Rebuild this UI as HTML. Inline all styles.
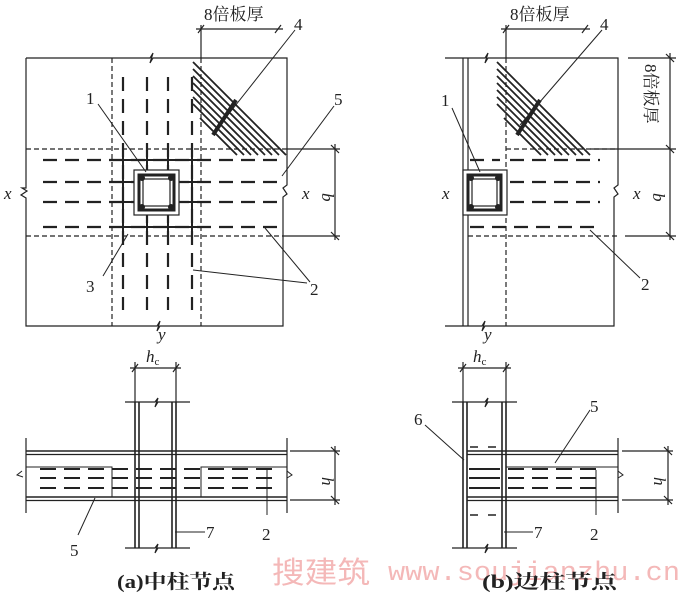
<!DOCTYPE html>
<html><head><meta charset="utf-8"><style>
html,body{margin:0;padding:0;background:#fff;}
svg{display:block;}
text{font-family:"Liberation Serif","Noto Serif CJK SC",serif;fill:#222;}
</style></head><body>
<svg width="683" height="600" viewBox="0 0 683 600" xmlns="http://www.w3.org/2000/svg">
<g stroke="#222" fill="none" stroke-width="1.2">
<path d="M26 58 H150 l3 -5 l-3 10 l3 -5 H287 V185 l-4 3 l4 6 l-4 3 V326 H160 l-3 5 l3 -10 l-3 5 H26 V198 l-5 -3 l6 -4 l-5 -3 l4 0 V58"/>
<g stroke-dasharray="5 3">
<line x1="112" y1="58" x2="112" y2="326"/><line x1="201" y1="58" x2="201" y2="326"/>
<line x1="26" y1="149" x2="287" y2="149"/><line x1="26" y1="236" x2="287" y2="236"/>
</g>
<g stroke-width="2.2" stroke-dasharray="14 8">
<line x1="43" y1="160" x2="280" y2="160"/><line x1="43" y1="182" x2="280" y2="182"/>
<line x1="43" y1="202" x2="280" y2="202"/><line x1="43" y1="227" x2="280" y2="227"/>
<line x1="123" y1="77" x2="123" y2="310"/><line x1="147" y1="77" x2="147" y2="310"/>
<line x1="168" y1="77" x2="168" y2="310"/><line x1="192" y1="77" x2="192" y2="310"/>
</g>
<g stroke-width="2">
<line x1="117" y1="160" x2="200" y2="160"/><line x1="117" y1="227" x2="200" y2="227"/>
<line x1="117" y1="182" x2="134" y2="182"/><line x1="179" y1="182" x2="200" y2="182"/>
<line x1="117" y1="202" x2="134" y2="202"/><line x1="179" y1="202" x2="200" y2="202"/>
<line x1="123" y1="152" x2="123" y2="235"/><line x1="192" y1="152" x2="192" y2="235"/>
<line x1="147" y1="152" x2="147" y2="170"/><line x1="168" y1="152" x2="168" y2="170"/>
<line x1="147" y1="215" x2="147" y2="235"/><line x1="168" y1="215" x2="168" y2="235"/>
</g>
<rect x="134" y="170" width="45" height="45" fill="#fff"/>
<rect x="139" y="175" width="35" height="35" stroke-width="3"/>
<rect x="143" y="179" width="27" height="27"/>
<g fill="#222" stroke="none"><circle cx="142" cy="178" r="3"/><circle cx="171" cy="178" r="3"/><circle cx="142" cy="207" r="3"/><circle cx="171" cy="207" r="3"/></g>
<g stroke-width="1.8">
<line x1="193" y1="62" x2="286" y2="155"/><line x1="193" y1="69" x2="279" y2="155"/>
<line x1="193" y1="76" x2="272" y2="155"/><line x1="193" y1="83" x2="265" y2="155"/>
<line x1="193" y1="90" x2="258" y2="155"/><line x1="193" y1="97" x2="251" y2="155"/>
<line x1="193" y1="104" x2="244" y2="155"/><line x1="200" y1="118" x2="237" y2="155"/>
</g>
<line x1="213" y1="135" x2="236" y2="100" stroke-width="4"/>
<line x1="201" y1="58" x2="201" y2="25"/><line x1="196" y1="29" x2="283" y2="29"/>
<line x1="198" y1="33" x2="204" y2="25"/><line x1="275" y1="33" x2="281" y2="25"/>
<line x1="220" y1="125" x2="295" y2="30" stroke-width="1"/>
<line x1="287" y1="149" x2="340" y2="149"/><line x1="287" y1="236" x2="340" y2="236"/>
<line x1="335" y1="144" x2="335" y2="240"/>
<line x1="331" y1="145" x2="339" y2="153"/><line x1="331" y1="232" x2="339" y2="240"/>
<g stroke-width="1">
<line x1="98" y1="104" x2="146" y2="172"/><line x1="334" y1="106" x2="282" y2="176"/>
<line x1="103" y1="276" x2="128" y2="234"/>
<line x1="193" y1="270" x2="307" y2="283"/><line x1="265" y1="228" x2="310" y2="282"/>
</g>

<line x1="135" y1="402" x2="135" y2="548" stroke-width="1.6"/><line x1="139" y1="402" x2="139" y2="548" stroke-width="1.6"/>
<line x1="172" y1="402" x2="172" y2="548" stroke-width="1.6"/><line x1="176" y1="402" x2="176" y2="548" stroke-width="1.6"/>
<path d="M125 402 H155 l3 -4 l-3 9 l3 -5 H190"/>
<path d="M125 548 H155 l3 -4 l-3 9 l3 -5 H190"/>
<line x1="26" y1="451" x2="287" y2="451" stroke-width="1.6"/><line x1="26" y1="454.5" x2="287" y2="454.5"/>
<line x1="26" y1="497" x2="287" y2="497" stroke-width="1.6"/><line x1="26" y1="500.5" x2="287" y2="500.5"/>
<line x1="26" y1="438" x2="26" y2="513"/><line x1="287" y1="438" x2="287" y2="513"/>
<path d="M26 467 H112 V497 M22 471 l-5 4 l6 2 M201 497 V467 H287 M287 471 l5 4 l-5 3" stroke-width="1"/>
<g stroke-width="2" stroke-dasharray="16 8">
<line x1="40" y1="469" x2="272" y2="469"/><line x1="40" y1="478" x2="272" y2="478"/><line x1="40" y1="488" x2="272" y2="488"/>
</g>
<line x1="267" y1="470" x2="267" y2="515" stroke-width="1"/>
<line x1="95" y1="498" x2="78" y2="535" stroke-width="1"/>
<line x1="175" y1="532" x2="205" y2="532" stroke-width="1"/>
<line x1="135" y1="402" x2="135" y2="362"/><line x1="176" y1="402" x2="176" y2="362"/>
<line x1="130" y1="368" x2="181" y2="368"/>
<line x1="132" y1="372" x2="138" y2="364"/><line x1="173" y1="372" x2="179" y2="364"/>
<line x1="290" y1="451" x2="340" y2="451"/><line x1="290" y1="500" x2="340" y2="500"/>
<line x1="335" y1="446" x2="335" y2="505"/>
<line x1="331" y1="447" x2="339" y2="455"/><line x1="331" y1="496" x2="339" y2="504"/>

<line x1="463" y1="58" x2="463" y2="326"/><line x1="468" y1="58" x2="468" y2="326"/>
<path d="M445 58 H485 l3 -5 l-3 10 l3 -5 H618 V185 l-4 3 l4 6 l-4 3 V326 H485 l-3 5 l3 -10 l-3 5 H445"/>
<g stroke-dasharray="5 3">
<line x1="506" y1="58" x2="506" y2="326"/>
<line x1="506" y1="149" x2="618" y2="149"/><line x1="468" y1="236" x2="618" y2="236"/>
</g>
<g stroke-width="2.2" stroke-dasharray="14 8">
<line x1="510" y1="160" x2="600" y2="160"/><line x1="510" y1="182" x2="600" y2="182"/>
<line x1="510" y1="202" x2="600" y2="202"/><line x1="470" y1="227" x2="600" y2="227"/>
<line x1="470" y1="160" x2="500" y2="160"/>
</g>
<rect x="463" y="170" width="44" height="45" fill="#fff"/>
<rect x="468" y="175" width="33" height="35" stroke-width="3"/>
<rect x="472" y="179" width="25" height="27"/>
<g fill="#222" stroke="none"><circle cx="471" cy="178" r="3"/><circle cx="498" cy="178" r="3"/><circle cx="471" cy="207" r="3"/><circle cx="498" cy="207" r="3"/></g>
<g stroke-width="1.8">
<line x1="497" y1="62" x2="590" y2="155"/><line x1="497" y1="69" x2="583" y2="155"/>
<line x1="497" y1="76" x2="576" y2="155"/><line x1="497" y1="83" x2="569" y2="155"/>
<line x1="497" y1="90" x2="562" y2="155"/><line x1="497" y1="97" x2="555" y2="155"/>
<line x1="497" y1="104" x2="548" y2="155"/><line x1="504" y1="118" x2="541" y2="155"/>
</g>
<line x1="517" y1="135" x2="540" y2="100" stroke-width="4"/>
<line x1="506" y1="58" x2="506" y2="25"/><line x1="501" y1="29" x2="590" y2="29"/>
<line x1="503" y1="33" x2="509" y2="25"/><line x1="582" y1="33" x2="588" y2="25"/>
<line x1="520" y1="125" x2="602" y2="30" stroke-width="1"/>
<line x1="628" y1="58" x2="676" y2="58"/><line x1="590" y1="149" x2="676" y2="149"/><line x1="625" y1="236" x2="676" y2="236"/>
<line x1="670" y1="53" x2="670" y2="240"/>
<line x1="666" y1="54" x2="674" y2="62"/><line x1="666" y1="145" x2="674" y2="153"/><line x1="666" y1="232" x2="674" y2="240"/>
<g stroke-width="1">
<line x1="452" y1="108" x2="480" y2="172"/>
<line x1="590" y1="230" x2="640" y2="278"/>
</g>

<line x1="463" y1="402" x2="463" y2="548" stroke-width="1.6"/><line x1="467" y1="402" x2="467" y2="548" stroke-width="1.6"/>
<line x1="502" y1="402" x2="502" y2="548" stroke-width="1.6"/><line x1="506" y1="402" x2="506" y2="548" stroke-width="1.6"/>
<path d="M452 402 H485 l3 -4 l-3 9 l3 -5 H517"/>
<path d="M452 548 H485 l3 -4 l-3 9 l3 -5 H517"/>
<line x1="467" y1="451" x2="618" y2="451" stroke-width="1.6"/><line x1="467" y1="454.5" x2="618" y2="454.5"/>
<line x1="467" y1="497" x2="618" y2="497" stroke-width="1.6"/><line x1="467" y1="500.5" x2="618" y2="500.5"/>
<line x1="618" y1="438" x2="618" y2="513"/>
<path d="M506 467 H618 M618 471 l5 4 l-5 3" stroke-width="1"/>
<g stroke-width="2" stroke-dasharray="16 8">
<line x1="508" y1="469" x2="600" y2="469"/><line x1="508" y1="478" x2="600" y2="478"/><line x1="508" y1="488" x2="600" y2="488"/>
</g>
<g stroke-width="2"><line x1="469" y1="469" x2="500" y2="469"/><line x1="469" y1="478" x2="500" y2="478"/><line x1="469" y1="488" x2="500" y2="488"/></g>
<g stroke-width="1.4" stroke-dasharray="8 10"><line x1="470" y1="447" x2="500" y2="447"/><line x1="470" y1="515" x2="500" y2="515"/></g>
<line x1="596" y1="470" x2="596" y2="515" stroke-width="1"/>
<line x1="425" y1="425" x2="464" y2="460" stroke-width="1"/>
<line x1="555" y1="463" x2="590" y2="410" stroke-width="1"/>
<line x1="504" y1="532" x2="533" y2="532" stroke-width="1"/>
<line x1="463" y1="402" x2="463" y2="362"/><line x1="506" y1="402" x2="506" y2="362"/>
<line x1="458" y1="368" x2="511" y2="368"/>
<line x1="460" y1="372" x2="466" y2="364"/><line x1="503" y1="372" x2="509" y2="364"/>
<line x1="622" y1="451" x2="673" y2="451"/><line x1="622" y1="500" x2="673" y2="500"/>
<line x1="668" y1="446" x2="668" y2="505"/>
<line x1="664" y1="447" x2="672" y2="455"/><line x1="664" y1="496" x2="672" y2="504"/>
</g>

<g font-size="17">
<text x="204" y="20">8倍板厚</text>
<text x="294" y="30">4</text>
<text x="86" y="104">1</text>
<text x="334" y="105">5</text>
<text x="4" y="199" font-style="italic">x</text>
<text x="302" y="199" font-style="italic">x</text>
<text x="86" y="292">3</text>
<text x="310" y="295">2</text>
<text x="158" y="340" font-style="italic">y</text>
<text x="146" y="362" font-style="italic">h<tspan font-size="11" dy="3" font-style="normal">c</tspan></text>
<text x="70" y="556">5</text>
<text x="206" y="538">7</text>
<text x="262" y="540">2</text>
<text x="510" y="20">8倍板厚</text>
<text x="600" y="30">4</text>
<text x="441" y="106">1</text>
<text x="442" y="199" font-style="italic">x</text>
<text x="633" y="199" font-style="italic">x</text>
<text x="641" y="290">2</text>
<text x="484" y="340" font-style="italic">y</text>
<text x="473" y="362" font-style="italic">h<tspan font-size="11" dy="3" font-style="normal">c</tspan></text>
<text x="414" y="425">6</text>
<text x="590" y="412">5</text>
<text x="534" y="538">7</text>
<text x="590" y="540">2</text>
</g>
<g font-size="17" font-style="italic">
<text transform="translate(322,193) rotate(90)">b</text>
<text transform="translate(653,193) rotate(90)">b</text>
<text transform="translate(322,477) rotate(90)">h</text>
<text transform="translate(654,477) rotate(90)">h</text>
</g>
<text transform="translate(645,64) rotate(90)" font-size="17">8倍板厚</text>
<text x="272" y="583" font-size="30" textLength="98" lengthAdjust="spacingAndGlyphs" style="fill:#f4b8b8;font-family:'Noto Sans CJK SC',sans-serif">搜建筑</text>
<text x="388" y="580" font-size="27" textLength="292" lengthAdjust="spacingAndGlyphs" style="fill:#f4b8b8;font-family:'Liberation Mono',monospace">www.soujianzhu.cn</text>
<text x="117" y="588" font-size="19" font-weight="bold" textLength="118" lengthAdjust="spacingAndGlyphs">(a)中柱节点</text>
<text x="482" y="588" font-size="19" font-weight="bold" textLength="135" lengthAdjust="spacingAndGlyphs">(b)边柱节点</text>
</svg>
</body></html>
